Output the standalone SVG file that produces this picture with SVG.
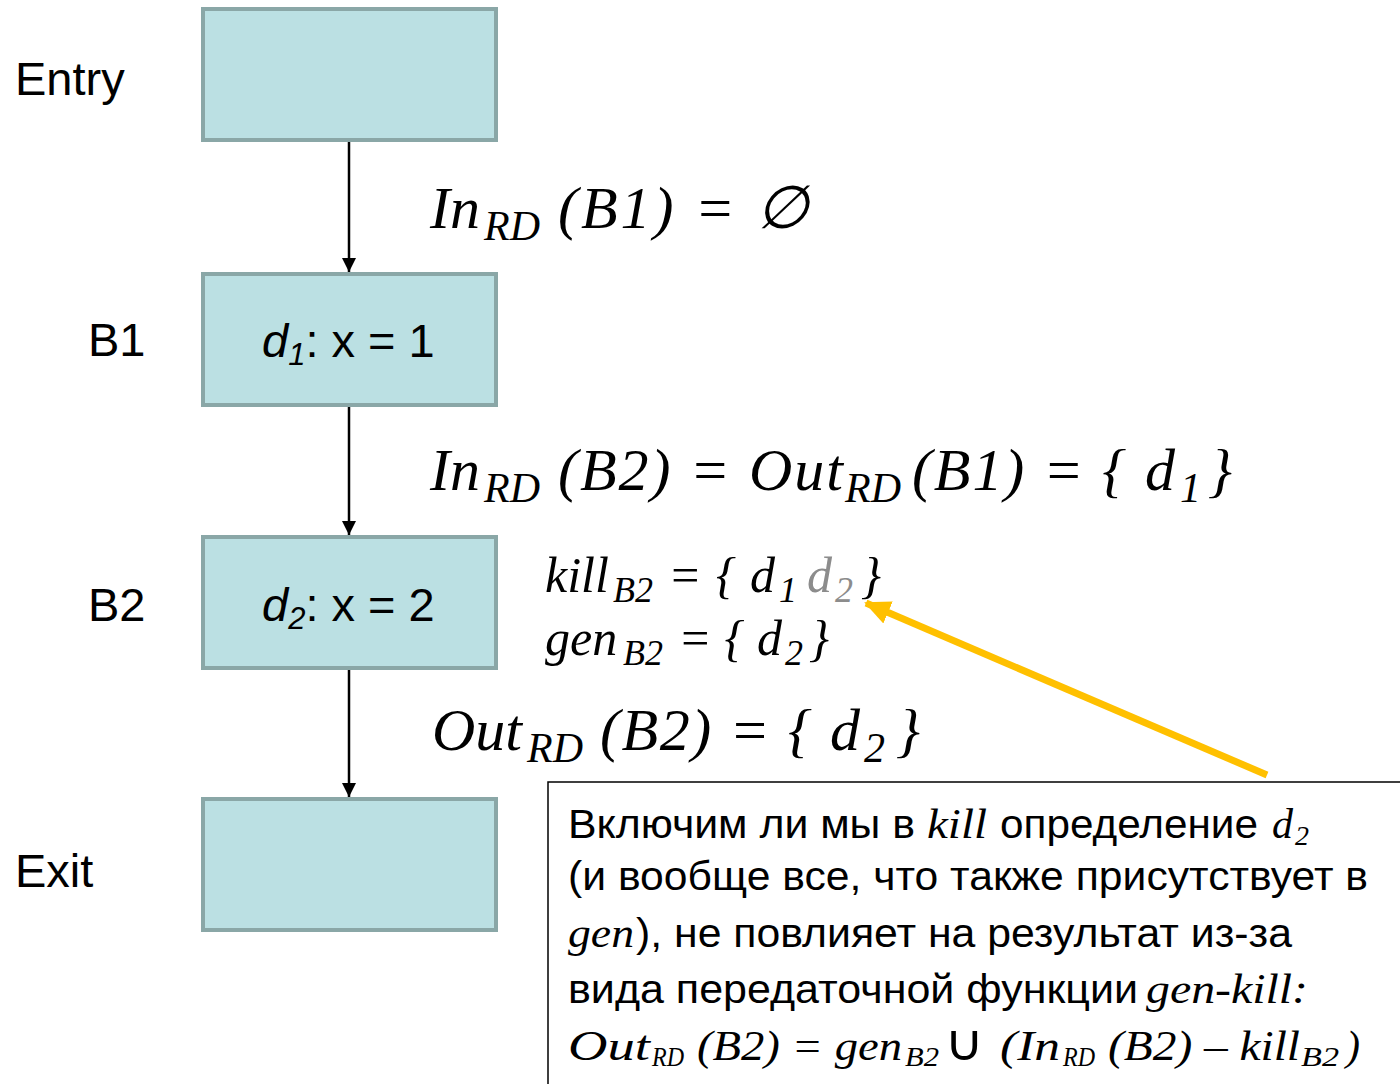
<svg xmlns="http://www.w3.org/2000/svg" width="1400" height="1084" viewBox="0 0 1400 1084">
<style>
.box{fill:#bbe0e3;stroke:#8aa7a7;stroke-width:4}
.lbl{font-family:"Liberation Sans",Arial,sans-serif;font-size:47px;fill:#000}
.mth{font-family:"Liberation Serif","Times New Roman",serif;font-style:italic;fill:#000}
.gray{fill:#8c8c8c}
.txt{font-family:"Liberation Sans",Arial,sans-serif;font-size:40px;fill:#000}
.edge{stroke:#000;stroke-width:2.5;fill:none}
</style>
<defs>
<marker id="ah" markerWidth="16" markerHeight="16" refX="14" refY="7" orient="auto" markerUnits="userSpaceOnUse">
<path d="M0,0 L14,7 L0,14 Z" fill="#000"/>
</marker>
<marker id="yh" markerWidth="30" markerHeight="30" refX="24" refY="12" orient="auto" markerUnits="userSpaceOnUse">
<path d="M0,0 L26,12 L0,24 Z" fill="#ffc000"/>
</marker>
</defs>
<rect width="1400" height="1084" fill="#fff"/>

<g id="connectors">
<line class="edge" x1="349" y1="141" x2="349" y2="272" marker-end="url(#ah)"/>
<line class="edge" x1="349" y1="406" x2="349" y2="535" marker-end="url(#ah)"/>
<line class="edge" x1="349" y1="668" x2="349" y2="797" marker-end="url(#ah)"/>
<line x1="1267" y1="775" x2="866" y2="603" stroke="#ffc000" stroke-width="7" marker-end="url(#yh)"/>
</g>

<g id="entry">
<rect class="box" x="203" y="9" width="293" height="131"/>
<text class="lbl" x="15" y="95">Entry</text>
</g>
<g id="b1">
<rect class="box" x="203" y="274" width="293" height="131"/>
<text class="lbl" x="88" y="356">B1</text>
<text class="lbl" x="262" y="357"><tspan font-style="italic">d</tspan><tspan font-style="italic" font-size="31" dy="8">1</tspan><tspan dy="-8">: x = 1</tspan></text>
</g>
<g id="b2">
<rect class="box" x="203" y="537" width="293" height="131"/>
<text class="lbl" x="88" y="621">B2</text>
<text class="lbl" x="262" y="621"><tspan font-style="italic">d</tspan><tspan font-style="italic" font-size="31" dy="8">2</tspan><tspan dy="-8">: x = 2</tspan></text>
</g>
<g id="exit">
<rect class="box" x="203" y="799" width="293" height="131"/>
<text class="lbl" x="15" y="887">Exit</text>
</g>

<g id="f1">
<text class="mth" font-size="60" x="430" y="228">In</text>
<text class="mth" font-size="42" x="484" y="240">RD</text>
<text class="mth" font-size="60" x="558" y="228" textLength="250" lengthAdjust="spacing">(B1) = ∅</text>
</g>
<g id="f2">
<text class="mth" font-size="60" x="430" y="490">In</text>
<text class="mth" font-size="42" x="484" y="502">RD</text>
<text class="mth" font-size="60" x="558" y="490" textLength="285" lengthAdjust="spacing">(B2) = Out</text>
<text class="mth" font-size="42" x="845" y="502">RD</text>
<text class="mth" font-size="60" x="912" y="490" textLength="263" lengthAdjust="spacing">(B1) = { d</text>
<text class="mth" font-size="42" x="1180" y="502">1</text>
<text class="mth" font-size="60" x="1208" y="490">}</text>
</g>
<g id="f3">
<text class="mth" font-size="50" x="545" y="592">kill</text>
<text class="mth" font-size="36" x="613" y="602">B2</text>
<text class="mth" font-size="50" x="668" y="592" textLength="107" lengthAdjust="spacing">= { d</text>
<text class="mth" font-size="36" x="779" y="602">1</text>
<text class="mth gray" font-size="50" x="807" y="592">d</text>
<text class="mth gray" font-size="36" x="835" y="602">2</text>
<text class="mth" font-size="50" x="861" y="592">}</text>
</g>
<g id="f4">
<text class="mth" font-size="50" x="545" y="655">gen</text>
<text class="mth" font-size="36" x="623" y="665">B2</text>
<text class="mth" font-size="50" x="678" y="655" textLength="104" lengthAdjust="spacing">= { d</text>
<text class="mth" font-size="36" x="785" y="665">2</text>
<text class="mth" font-size="50" x="809" y="655">}</text>
</g>
<g id="f5">
<text class="mth" font-size="60" x="432" y="750">Out</text>
<text class="mth" font-size="42" x="527" y="762">RD</text>
<text class="mth" font-size="60" x="600" y="750" textLength="260" lengthAdjust="spacing">(B2) = { d</text>
<text class="mth" font-size="42" x="864" y="762">2</text>
<text class="mth" font-size="60" x="896" y="750">}</text>
</g>

<g id="note">
<rect x="548" y="782" width="860" height="310" fill="#fff" stroke="#000" stroke-width="1.5"/>
<text class="txt" x="568" y="838" textLength="347" lengthAdjust="spacingAndGlyphs">Включим ли мы в</text>
<text class="mth" font-size="42" x="927" y="838" textLength="60" lengthAdjust="spacingAndGlyphs">kill</text>
<text class="txt" x="1000" y="838" textLength="258" lengthAdjust="spacingAndGlyphs">определение</text>
<text class="mth" font-size="42" x="1272" y="838">d</text>
<text class="mth" font-size="28" x="1295" y="845">2</text>
<text class="txt" x="568" y="890" textLength="800" lengthAdjust="spacingAndGlyphs">(и вообще все, что также присутствует в</text>
<text class="mth" font-size="42" x="568" y="947" textLength="66" lengthAdjust="spacingAndGlyphs">gen</text>
<text class="txt" x="636" y="947" textLength="656" lengthAdjust="spacingAndGlyphs">), не повлияет на результат из-за</text>
<text class="txt" x="568" y="1003" textLength="570" lengthAdjust="spacingAndGlyphs">вида передаточной функции</text>
<text class="mth" font-size="42" x="1146" y="1003" textLength="162" lengthAdjust="spacingAndGlyphs">gen-kill:</text>
<text class="mth" font-size="42" x="568" y="1060" textLength="82" lengthAdjust="spacingAndGlyphs">Out</text>
<text class="mth" font-size="28" x="652" y="1066" textLength="32" lengthAdjust="spacingAndGlyphs">RD</text>
<text class="mth" font-size="42" x="697" y="1060" textLength="205" lengthAdjust="spacingAndGlyphs">(B2) = gen</text>
<text class="mth" font-size="28" x="905" y="1066" textLength="34" lengthAdjust="spacingAndGlyphs">B2</text>
<text font-family="'DejaVu Sans',sans-serif" font-size="50" x="944" y="1060" textLength="40" lengthAdjust="spacingAndGlyphs">∪</text>
<text class="mth" font-size="42" x="1000" y="1060" textLength="60" lengthAdjust="spacingAndGlyphs">(In</text>
<text class="mth" font-size="28" x="1063" y="1066" textLength="32" lengthAdjust="spacingAndGlyphs">RD</text>
<text class="mth" font-size="42" x="1108" y="1060" textLength="192" lengthAdjust="spacingAndGlyphs">(B2) – kill</text>
<text class="mth" font-size="28" x="1301" y="1066" textLength="38" lengthAdjust="spacingAndGlyphs">B2</text>
<text class="mth" font-size="42" x="1346" y="1060">)</text>
</g>
</svg>
